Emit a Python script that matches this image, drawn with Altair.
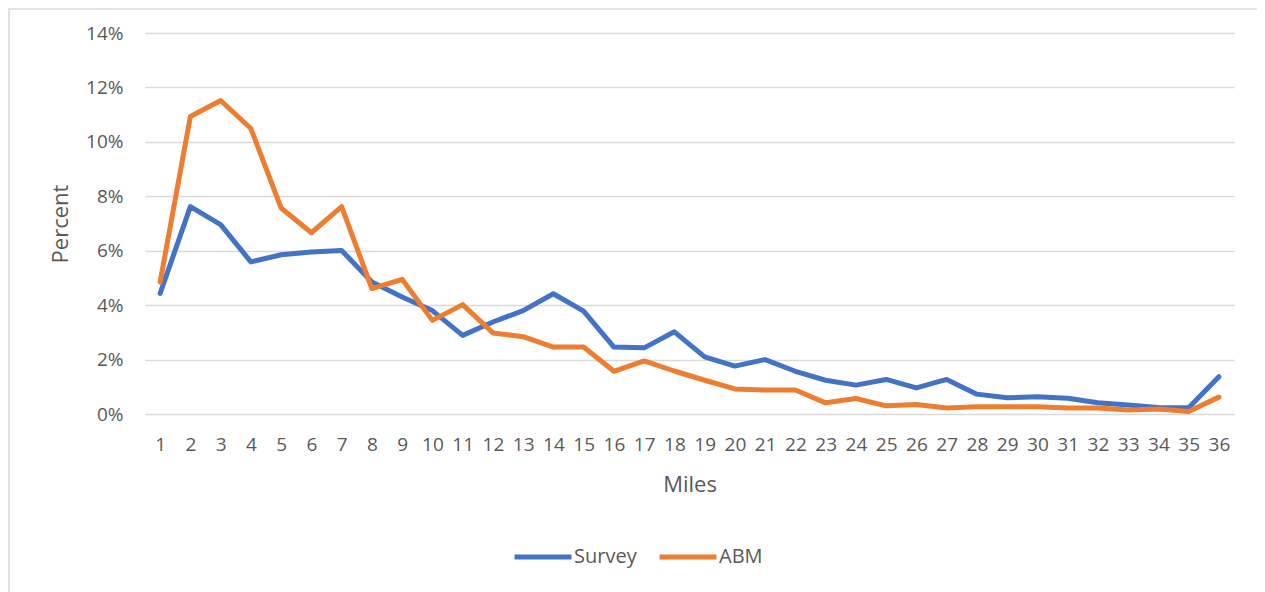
import altair as alt
import pandas as pd

miles = list(range(1, 37))
survey = [4.43, 7.62, 6.96, 5.59, 5.85, 5.95, 6.01, 4.85, 4.3, 3.8, 2.89, 3.38, 3.8, 4.42, 3.78,
          2.46, 2.43, 3.02, 2.1, 1.76, 2.0, 1.57, 1.24, 1.06, 1.27, 0.96, 1.27, 0.73, 0.6, 0.63,
          0.58, 0.41, 0.33, 0.24, 0.23, 1.37]
abm = [4.85, 10.93, 11.52, 10.49, 7.57, 6.66, 7.62, 4.61, 4.95, 3.44, 4.02, 2.98, 2.84, 2.46, 2.46,
       1.57, 1.95, 1.58, 1.24, 0.92, 0.88, 0.88, 0.41, 0.57, 0.3, 0.35, 0.22, 0.27, 0.27, 0.27,
       0.22, 0.22, 0.15, 0.18, 0.09, 0.62]
series = ["Survey", "ABM"]
colors = ["#4472C4", "#ED7D31"]
y_ticks = [0, 0.02, 0.04, 0.06, 0.08, 0.10, 0.12, 0.14]

rows = []
for name, vals in zip(series, [survey, abm]):
    for m, v in zip(miles, vals):
        rows.append({"Miles": m, "Percent": v / 100.0, "Series": name})
df = pd.DataFrame(rows)

FONT = "Open Sans"
TXT = "#595959"

lines = alt.Chart(df).mark_line(strokeWidth=5, strokeCap="round", strokeJoin="round").encode(
    x=alt.X("Miles:O", sort=miles, scale=alt.Scale(padding=0.5),
            axis=alt.Axis(title="Miles", labelAngle=0, labelPadding=21, labelFontSize=19,
                          labelFont=FONT, labelColor=TXT, ticks=False, domain=False, grid=False,
                          labelOverlap=False, titleFont=FONT, titleFontSize=22, titleColor=TXT,
                          titleFontWeight="normal", titleBaseline="alphabetic", titleY=77)),
    y=alt.Y("Percent:Q", scale=alt.Scale(domain=[0, 0.14], nice=False),
            axis=alt.Axis(title="Percent", values=y_ticks, format=".0%", labelPadding=22,
                          labelFontSize=19, labelFont=FONT, labelColor=TXT, ticks=False,
                          domain=False, grid=True, gridColor="#D9D9D9", gridWidth=1.3,
                          titleFont=FONT, titleFontSize=22, titleColor=TXT,
                          titleFontWeight="normal", titleAngle=-90,
                          titleBaseline="alphabetic", titleX=-78)),
    color=alt.Color("Series:N", sort=series,
                    scale=alt.Scale(domain=series, range=colors),
                    legend=alt.Legend(title=None, orient="none", direction="horizontal",
                                      legendX=367, legendY=493, symbolType="stroke",
                                      symbolSize=3249, symbolStrokeWidth=5, labelFont=FONT,
                                      labelFontSize=20, labelColor=TXT, labelOffset=0,
                                      columnPadding=12, padding=0)),
)

frame = alt.Chart(pd.DataFrame({"a": [0]})).mark_rect(
    filled=False, stroke="#D9D9D9", strokeWidth=1.5
).encode(x=alt.value(-136), x2=alt.value(1117), y=alt.value(-24), y2=alt.value(600))

chart = alt.layer(frame, lines).properties(
    width=1089, height=381,
    autosize=alt.AutoSizeParams(type="none"),
    padding={"left": 137, "top": 25, "right": 23, "bottom": 178},
    background="white",
).configure_view(stroke=None)

chart.save("out.html", embed_options={"renderer": "svg", "actions": False})
